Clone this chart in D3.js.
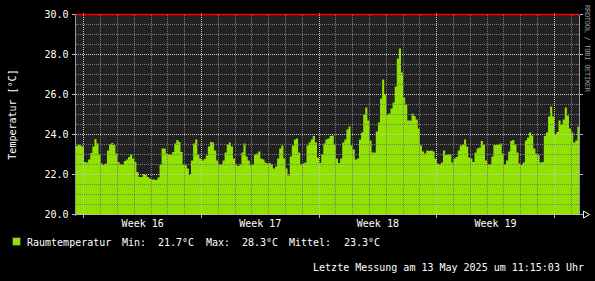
<!DOCTYPE html>
<html>
<head>
<meta charset="utf-8">
<script src="https://cdn.jsdelivr.net/npm/d3@7"></script>
<style>
  html, body { margin: 0; padding: 0; background: #000; }
  svg { display: block; }
  text { font-family: "DejaVu Sans Mono", monospace; font-size: 10px; fill: #fff; }
</style>
</head>
<body>
<svg id="chart" width="595" height="281"></svg>
<script>
/* Raumtemperatur, rrdtool style month graph */

//** data **//
var startTime = new Date(2025, 3, 13, 12, 0);   // first sample
var stepHours = 3;                              // one value every 3 hours
var lastTime = new Date(2025, 4, 13, 11, 15);   // letzte Messung

var temps = [
  23.42, 23.5, 23.45, 23.4,                              // 13 Apr
  22.63, 22.6, 22.75, 23.08, 23.4, 23.78, 23.55, 23.0,   // 14 Apr
  22.55, 22.47, 22.55, 23.2, 23.5, 23.58, 23.47, 23.05,
  22.63, 22.5, 22.5, 22.68, 22.75, 22.88, 23.0, 22.8,
  22.63, 22.13, 21.88, 21.88, 22.02, 21.97, 21.88, 21.8,
  21.75, 21.75, 21.72, 21.85, 22.47, 23.3, 23.3, 23.05,
  23.0, 23.0, 23.13, 23.55, 23.72, 23.63, 23.13, 22.5,
  22.47, 22.3, 21.97, 22.7, 23.55, 23.75, 23.0, 22.8,    // 20 Apr
  22.7, 22.78, 22.95, 23.4, 23.62, 23.6, 23.2, 22.7,     // 21 Apr
  22.5, 22.5, 22.7, 23.1, 23.5, 23.6, 23.4, 22.8,
  22.5, 22.42, 22.5, 23.1, 23.55, 22.9, 22.7, 22.45,
  22.5, 23.0, 23.05, 23.15, 22.8, 22.75, 22.6, 22.55,
  22.57, 22.5, 22.3, 22.4, 22.8, 23.3, 23.45, 22.8,
  22.3, 21.95, 22.9, 23.45, 23.75, 23.8, 23.1, 22.5,
  22.55, 22.6, 23.45, 23.6, 23.75, 23.93, 23.6, 22.85,   // 27 Apr
  22.57, 23.0, 23.55, 23.75, 23.8, 23.93, 23.95, 23.5,   // 28 Apr
  22.8, 22.57, 22.8, 23.6, 23.75, 24.25, 24.4, 23.45,
  23.25, 22.75, 22.8, 23.75, 24.1, 25.0, 25.35, 24.7,
  23.7, 23.1, 23.1, 24.15, 24.6, 25.8, 26.75, 26.0,
  25.0, 25.05, 25.3, 25.6, 26.4, 27.8, 28.3, 27.1,
  25.85, 25.5, 24.7, 24.7, 25.05, 24.92, 24.75, 24.3,
  23.45, 23.15, 23.05, 23.2, 23.18, 23.2, 23.15, 22.8,   // 4 May
  22.55, 22.5, 22.6, 23.2, 22.97, 23.0, 23.0, 22.6,      // 5 May
  22.8, 22.88, 23.2, 23.45, 23.5, 23.75, 23.4, 22.85,
  22.8, 22.63, 23.1, 23.3, 23.35, 23.68, 23.5, 22.7,
  22.5, 22.5, 22.9, 23.47, 23.48, 23.5, 23.55, 23.05,
  22.5, 22.7, 23.15, 23.68, 23.72, 23.5, 23.1, 22.55,
  22.48, 22.6, 23.7, 23.85, 24.1, 23.95, 23.3, 23.05,
  22.97, 22.6, 22.63, 23.92, 24.1, 24.9, 25.4, 24.9,     // 11 May
  24.0, 24.13, 24.7, 24.5, 24.75, 25.35, 24.95, 24.3,    // 12 May
  24.1, 23.6, 23.7, 24.4                                 // 13 May
];

var yMajor = [20, 22, 24, 26, 28, 30];
var yLabels = ["20.0", "22.0", "24.0", "26.0", "28.0", "30.0"];
var weekLabels = ["Week 16", "Week 17", "Week 18", "Week 19"];

var legendName = "Raumtemperatur";
var legendStats = [["Min:", "21.7°C"], ["Max:", "28.3°C"], ["Mittel:", "23.3°C"]];
var footer = "Letzte Messung am 13 May 2025 um 11:15:03 Uhr";

var areaColor = "#90e200";

//** build series **//
var series = temps.map(function(v, i) {
  return {t: d3.timeHour.offset(startTime, i * stepHours), v: v};
});
// hold last value up to the last measurement
series.push({t: lastTime, v: temps[temps.length - 1]});

//** chart **//
var svg = d3.select("#chart");

var x = d3.scaleTime()
    .domain([new Date(2025, 3, 13, 12, 0), new Date(2025, 4, 13, 12, 0)])
    .range([75.5, 579.5]);

var y = d3.scaleLinear()
    .domain([20, 30])
    .range([214.5, 14.5]);

var x0 = x.range()[0], x1 = x.range()[1];
var yTop = y(30), yBot = y(20);

// background
svg.append("rect").attr("width", 595).attr("height", 281).attr("fill", "#000");
svg.append("rect")
    .attr("x", x0).attr("y", yTop)
    .attr("width", x1 - x0).attr("height", yBot - yTop)
    .attr("fill", "#222222");

// area
var area = d3.area()
    .curve(d3.curveStepAfter)
    .x(function(d) { return x(d.t); })
    .y0(yBot)
    .y1(function(d) { return y(d.v); });

svg.append("path")
    .datum(series)
    .attr("d", area)
    .attr("fill", areaColor);

// grid
var grid = svg.append("g").attr("shape-rendering", "crispEdges");

var yMinor = d3.range(20.5, 30, 0.5).filter(function(d) { return d % 2 != 0; });
var days = d3.timeDay.range(x.domain()[0], x.domain()[1]).filter(function(d) { return d.getDay() != 1; });
var mondays = d3.timeMonday.range(x.domain()[0], x.domain()[1]);

function px(v) { return Math.round(v - 0.5) + 0.5; }

grid.selectAll(".hmin").data(yMinor).enter().append("line")
    .attr("x1", x0).attr("x2", x1)
    .attr("y1", function(d) { return px(y(d)); })
    .attr("y2", function(d) { return px(y(d)); })
    .attr("stroke", "#7a7a7a").attr("stroke-dasharray", "1,1");

grid.selectAll(".vmin").data(days).enter().append("line")
    .attr("x1", function(d) { return px(x(d)); })
    .attr("x2", function(d) { return px(x(d)); })
    .attr("y1", yTop).attr("y2", yBot)
    .attr("stroke", "#7a7a7a").attr("stroke-dasharray", "1,1");

grid.selectAll(".hmaj").data(yMajor.slice(1, -1)).enter().append("line")
    .attr("x1", x0).attr("x2", x1)
    .attr("y1", function(d) { return y(d); })
    .attr("y2", function(d) { return y(d); })
    .attr("stroke", "#c8c8c8").attr("stroke-dasharray", "1,1");

grid.selectAll(".vmaj").data(mondays).enter().append("line")
    .attr("x1", function(d) { return px(x(d)); })
    .attr("x2", function(d) { return px(x(d)); })
    .attr("y1", yTop).attr("y2", yBot)
    .attr("stroke", "#c8c8c8").attr("stroke-dasharray", "1,1");

// ticks on the frame
grid.selectAll(".tl").data(yMajor).enter().append("line")
    .attr("x1", x0 - 4).attr("x2", x0)
    .attr("y1", function(d) { return y(d); }).attr("y2", function(d) { return y(d); })
    .attr("stroke", "#bbbbbb");
grid.selectAll(".tr").data(yMajor).enter().append("line")
    .attr("x1", x1).attr("x2", x1 + 3)
    .attr("y1", function(d) { return y(d); }).attr("y2", function(d) { return y(d); })
    .attr("stroke", "#bbbbbb");
grid.selectAll(".tt").data(mondays).enter().append("line")
    .attr("x1", function(d) { return px(x(d)); })
    .attr("x2", function(d) { return px(x(d)); })
    .attr("y1", yTop - 2).attr("y2", yTop)
    .attr("stroke", "#bbbbbb");
grid.selectAll(".tb").data(mondays).enter().append("line")
    .attr("x1", function(d) { return px(x(d)); })
    .attr("x2", function(d) { return px(x(d)); })
    .attr("y1", yBot).attr("y2", yBot + 3)
    .attr("stroke", "#bbbbbb");

// axes lines
grid.append("line").attr("x1", x0).attr("x2", x0).attr("y1", yTop).attr("y2", yBot + 1)
    .attr("stroke", "#999999");
grid.append("line").attr("x1", x1).attr("x2", x1).attr("y1", yTop).attr("y2", yBot)
    .attr("stroke", "#999999");
grid.append("line").attr("x1", x0).attr("x2", x1 + 4).attr("y1", yBot).attr("y2", yBot)
    .attr("stroke", "#bbbbbb");

// arrow at the end of the x axis
svg.append("path")
    .attr("d", "M" + (x1 + 4) + "," + (yBot - 3.5) + "L" + (x1 + 10) + "," + yBot +
               "L" + (x1 + 4) + "," + (yBot + 3.5) + "Z")
    .attr("fill", "#000").attr("stroke", "#ffffff").attr("stroke-width", 1);

// red line at 30
svg.append("line")
    .attr("x1", x0).attr("x2", x1)
    .attr("y1", yTop).attr("y2", yTop)
    .attr("stroke", "#ff0000").attr("stroke-width", 1.3);

// y labels
svg.selectAll(".ylab").data(yMajor).enter().append("text")
    .attr("x", 68.5)
    .attr("y", function(d) { return y(d) + 3.5; })
    .attr("text-anchor", "end")
    .text(function(d, i) { return yLabels[i]; });

// week labels (middle of each week)
svg.selectAll(".wlab").data(mondays.slice(0, weekLabels.length)).enter().append("text")
    .attr("x", function(d) { return x(d3.timeHour.offset(d, 84)); })
    .attr("y", 227)
    .attr("text-anchor", "middle")
    .text(function(d, i) { return weekLabels[i]; });

// y title
svg.append("text")
    .attr("transform", "translate(16," + ((yTop + yBot) / 2) + ") rotate(-90)")
    .attr("text-anchor", "middle")
    .text("Temperatur [°C]");

// watermark
svg.append("text")
    .attr("transform", "translate(585,5) rotate(90)")
    .style("font-size", "7px")
    .style("fill", "#9a9a9a")
    .attr("textLength", 87)
    .text("RRDTOOL / TOBI OETIKER");

// legend
svg.append("rect")
    .attr("x", 12.5).attr("y", 237.5).attr("width", 8).attr("height", 8)
    .attr("fill", areaColor).attr("stroke", "#333").attr("stroke-width", 1);

svg.append("text").attr("x", 27).attr("y", 245.5).text(legendName);

var statX = [[122, 158], [206, 242], [289, 344]];
legendStats.forEach(function(s, i) {
  svg.append("text").attr("x", statX[i][0]).attr("y", 245.5).text(s[0]);
  svg.append("text").attr("x", statX[i][1]).attr("y", 245.5).text(s[1]);
});

// footer
svg.append("text")
    .attr("x", 584).attr("y", 271)
    .attr("text-anchor", "end")
    .text(footer);
</script>
</body>
</html>
